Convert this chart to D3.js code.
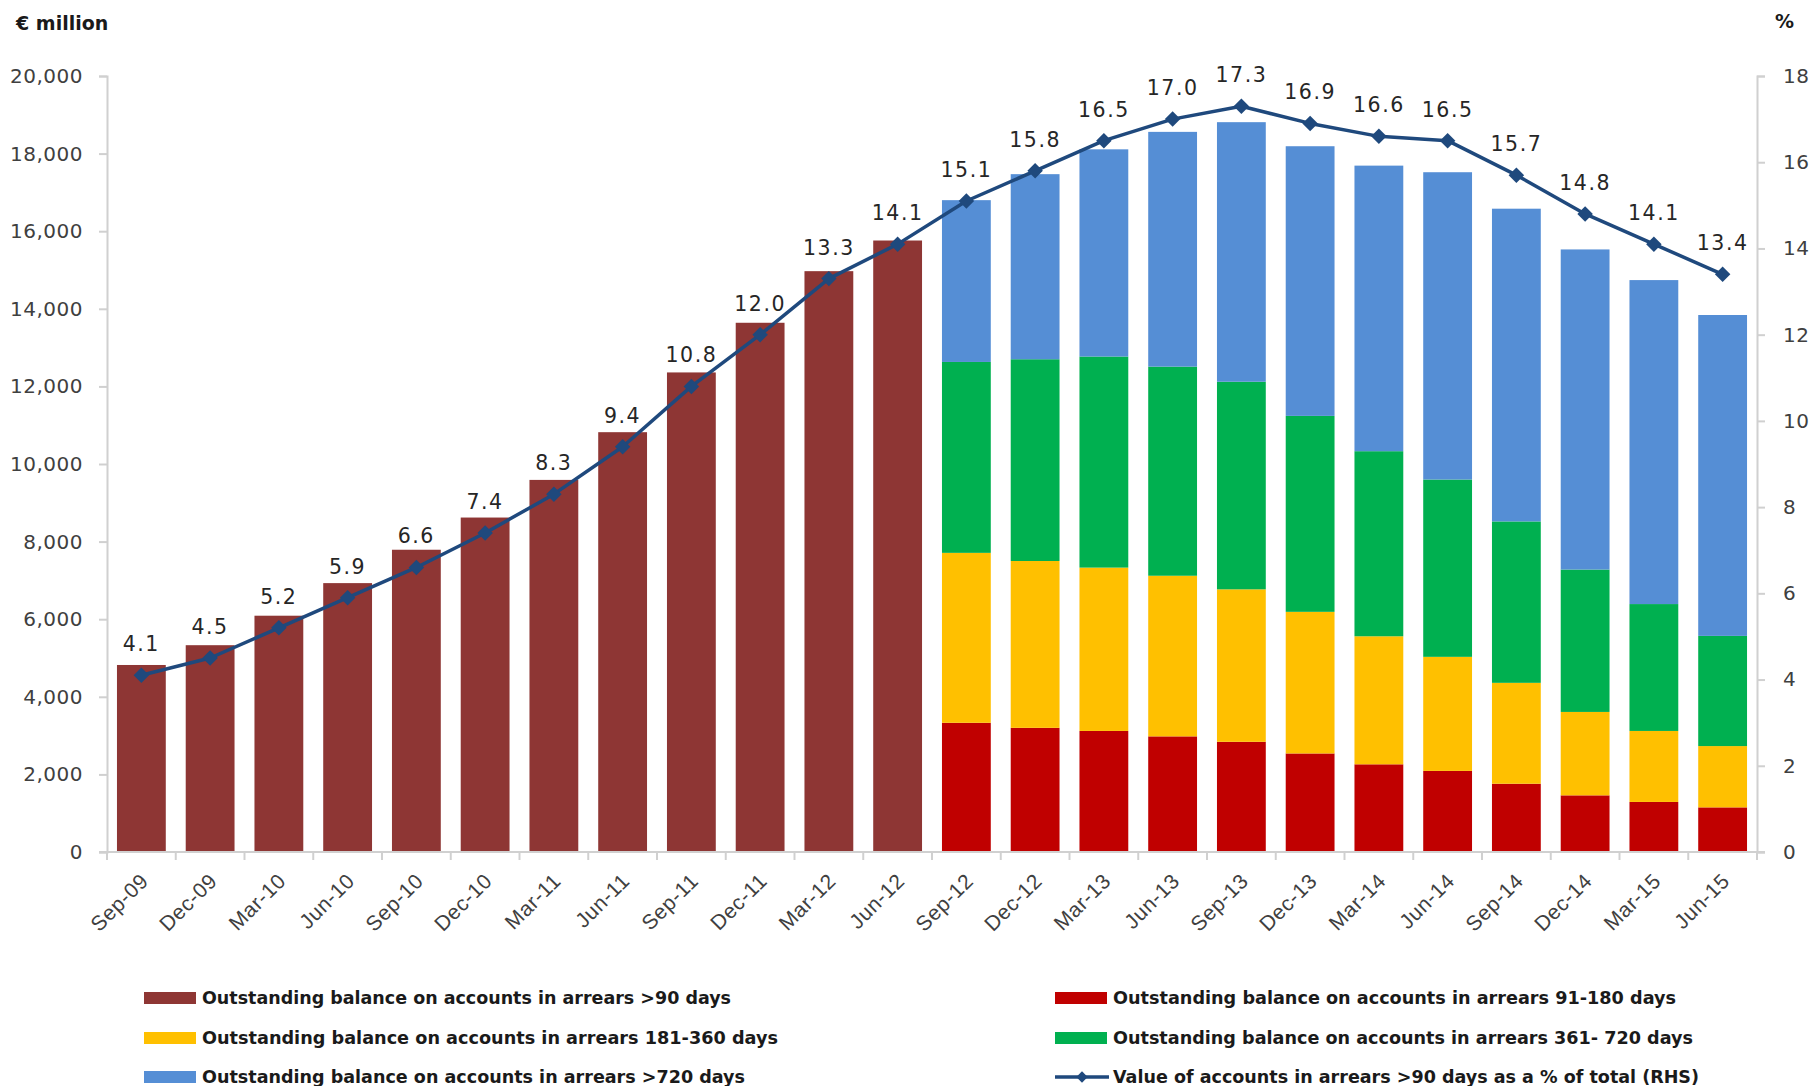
<!DOCTYPE html>
<html>
<head>
<meta charset="utf-8">
<script src="https://cdn.jsdelivr.net/npm/d3@7"></script>
<style>
  html, body { margin: 0; padding: 0; background: #ffffff; }
  svg { display: block; font-family: "DejaVu Sans", sans-serif; }
</style>
</head>
<body>
<svg id="chart" width="1812" height="1086"></svg>
<script>
// ---------------- DATA ----------------
const categories = ["Sep-09","Dec-09","Mar-10","Jun-10","Sep-10","Dec-10","Mar-11","Jun-11","Sep-11","Dec-11","Mar-12","Jun-12",
                    "Sep-12","Dec-12","Mar-13","Jun-13","Sep-13","Dec-13","Mar-14","Jun-14","Sep-14","Dec-14","Mar-15","Jun-15"];
// € million
const arrearsOver90   = [4820,5330,6090,6930,7790,8620,9590,10820,12360,13640,14970,15760, 0,0,0,0,0,0,0,0,0,0,0,0];
const arrears91to180  = [0,0,0,0,0,0,0,0,0,0,0,0, 3330,3200,3120,2980,2840,2540,2260,2090,1760,1460,1290,1150];
const arrears181to360 = [0,0,0,0,0,0,0,0,0,0,0,0, 4380,4300,4210,4140,3930,3650,3300,2940,2600,2150,1830,1580];
const arrears361to720 = [0,0,0,0,0,0,0,0,0,0,0,0, 4920,5200,5440,5390,5350,5050,4770,4570,4160,3670,3270,2840];
const arrearsOver720  = [0,0,0,0,0,0,0,0,0,0,0,0, 4170,4770,5340,6050,6690,6950,7360,7920,8060,8250,8350,8270];
// % of total (RHS)
const pctOfTotal = [4.1,4.5,5.2,5.9,6.6,7.4,8.3,9.4,10.8,12.0,13.3,14.1,15.1,15.8,16.5,17.0,17.3,16.9,16.6,16.5,15.7,14.8,14.1,13.4];
const leftTicks  = [0,2000,4000,6000,8000,10000,12000,14000,16000,18000,20000];
const rightTicks = [0,2,4,6,8,10,12,14,16,18];
const seriesNames = [
  "Outstanding balance on accounts in arrears >90 days",
  "Outstanding balance on accounts in arrears 91-180 days",
  "Outstanding balance on accounts in arrears 181-360 days",
  "Outstanding balance on accounts in arrears 361- 720 days",
  "Outstanding balance on accounts in arrears >720 days",
  "Value of accounts in arrears >90 days as a % of total (RHS)"
];

// ---------------- STYLE ----------------
const colors = {
  over90: "#8E3634", r91: "#C00000", r181: "#FFC000", r361: "#00B050", over720: "#558ED5", line: "#1F497D"
};
const axisColor = "#D0D0D0";
const tickText = "#404040";

const svg = d3.select("#chart");
const m = { left: 107, right: 1757, top: 76, bottom: 852 };

const x = d3.scaleBand().domain(categories).range([m.left, m.right]).paddingInner(0.29).paddingOuter(0.145);
const yL = d3.scaleLinear().domain([0, 20000]).range([m.bottom, m.top]);
const yR = d3.scaleLinear().domain([0, 18]).range([m.bottom, m.top]);

// ---------------- BARS ----------------
const stackKeys = ["over90","r91","r181","r361","over720"];
const table = categories.map((c, i) => ({
  cat: c,
  over90: arrearsOver90[i], r91: arrears91to180[i], r181: arrears181to360[i],
  r361: arrears361to720[i], over720: arrearsOver720[i]
}));
const stacked = d3.stack().keys(stackKeys)(table);

const gBars = svg.append("g");
stacked.forEach(layer => {
  gBars.append("g").attr("fill", colors[layer.key])
    .selectAll("rect").data(layer.filter(d => d[1] - d[0] > 0)).join("rect")
    .attr("x", d => x(d.data.cat))
    .attr("width", x.bandwidth())
    .attr("y", d => yL(d[1]))
    .attr("height", d => yL(d[0]) - yL(d[1]));
});

// ---------------- AXES ----------------
const fmt = d3.format(",");
const axL = svg.append("g").attr("transform", `translate(${m.left},0)`)
  .call(d3.axisLeft(yL).tickValues(leftTicks).tickFormat(fmt).tickSize(8).tickPadding(16));
const axR = svg.append("g").attr("transform", `translate(${m.right},0)`)
  .call(d3.axisRight(yR).tickValues(rightTicks).tickFormat(d3.format("d")).tickSize(8).tickPadding(18));
const axB = svg.append("g").attr("transform", `translate(0,${m.bottom})`)
  .call(d3.axisBottom(x).tickSize(0).tickFormat(""));

[axL, axR, axB].forEach(a => {
  a.select(".domain").attr("stroke", axisColor).attr("stroke-width", 2);
  a.selectAll(".tick line").attr("stroke", axisColor).attr("stroke-width", 2);
  a.selectAll(".tick text").attr("fill", tickText).style("font-size", "20px")
    .style("font-family", '"DejaVu Sans", sans-serif').attr("letter-spacing", "0.5px");
});
axB.select(".domain").attr("d", `M${m.left - 8},0H${m.right + 8}`);

// category boundary ticks on x axis
const boundaries = categories.map(c => x(c) - x.step() * x.paddingInner() / 2).concat([m.right]);
axB.selectAll("line.bnd").data(boundaries).join("line")
  .attr("class", "bnd")
  .attr("x1", d => d).attr("x2", d => d)
  .attr("y1", 0).attr("y2", 8)
  .attr("stroke", axisColor).attr("stroke-width", 2);

// x labels rotated
axB.selectAll("text.xl").data(categories).join("text")
  .attr("class", "xl")
  .attr("transform", d => `translate(${x(d) + x.bandwidth() / 2 + 3},${25}) rotate(-45)`)
  .attr("text-anchor", "end")
  .attr("dy", "0.35em")
  .attr("fill", tickText)
  .attr("letter-spacing", "0.6px")
  .style("font-size", "21px")
  .text(d => d);

// ---------------- LINE ----------------
const lineData = categories.map((c, i) => ({ cat: c, v: pctOfTotal[i] }));
const cx = d => x(d.cat) + x.bandwidth() / 2;
svg.append("path").datum(lineData)
  .attr("fill", "none").attr("stroke", colors.line).attr("stroke-width", 3.5)
  .attr("stroke-linejoin", "round")
  .attr("d", d3.line().x(cx).y(d => yR(d.v)));

const diamond = d3.symbol().type(d3.symbolSquare).size(120);
svg.append("g").selectAll("path").data(lineData).join("path")
  .attr("d", diamond)
  .attr("fill", colors.line)
  .attr("transform", d => `translate(${cx(d)},${yR(d.v)}) rotate(45)`);

svg.append("g").selectAll("text").data(lineData).join("text")
  .attr("x", cx).attr("y", d => yR(d.v) - 24)
  .attr("text-anchor", "middle")
  .attr("fill", "#262626")
  .attr("letter-spacing", "1.5px")
  .style("font-size", "20.5px")
  .text(d => d.v.toFixed(1));

// ---------------- TITLES ----------------
svg.append("text").attr("x", 16).attr("y", 30)
  .style("font-size", "19px").style("font-weight", "bold").attr("fill", "#1a1a1a")
  .text("€ million");
svg.append("text").attr("x", 1775).attr("y", 28)
  .style("font-size", "19px").style("font-weight", "bold").attr("fill", "#1a1a1a")
  .text("%");

// ---------------- LEGEND ----------------
const legendItems = [
  { name: seriesNames[0], color: colors.over90,  type: "rect", col: 0, row: 0, w: 529 },
  { name: seriesNames[1], color: colors.r91,     type: "rect", col: 1, row: 0, w: 563 },
  { name: seriesNames[2], color: colors.r181,    type: "rect", col: 0, row: 1, w: 576 },
  { name: seriesNames[3], color: colors.r361,    type: "rect", col: 1, row: 1, w: 580 },
  { name: seriesNames[4], color: colors.over720, type: "rect", col: 0, row: 2, w: 543 },
  { name: seriesNames[5], color: colors.line,    type: "line", col: 1, row: 2, w: 586 }
];
const colX = [144, 1055];
const rowY = [998, 1038, 1077];
const lg = svg.append("g");
legendItems.forEach(it => {
  const g = lg.append("g").attr("transform", `translate(${colX[it.col]},${rowY[it.row]})`);
  if (it.type === "rect") {
    g.append("rect").attr("x", 0).attr("y", -6).attr("width", 52).attr("height", 12).attr("fill", it.color);
  } else {
    g.append("line").attr("x1", 0).attr("x2", 54).attr("y1", 0).attr("y2", 0)
      .attr("stroke", it.color).attr("stroke-width", 3.5);
    g.append("path").attr("d", d3.symbol().type(d3.symbolSquare).size(64))
      .attr("fill", it.color).attr("transform", "translate(27,0) rotate(45)");
  }
  g.append("text").attr("x", 58).attr("y", 0).attr("dy", "0.36em")
    .style("font-size", "17.5px").style("font-weight", "bold").attr("fill", "#1a1a1a")
    .attr("textLength", it.w).attr("lengthAdjust", "spacingAndGlyphs")
    .text(it.name);
});
</script>
</body>
</html>
